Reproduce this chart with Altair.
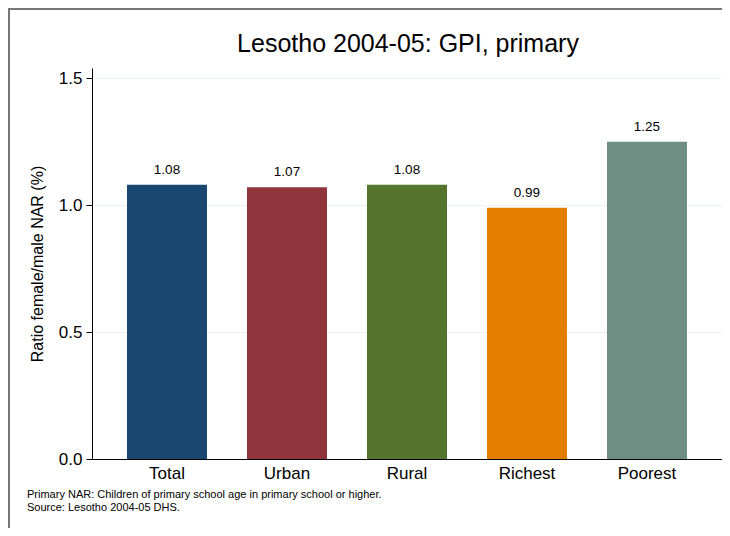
import altair as alt
import pandas as pd

categories = ["Total", "Urban", "Rural", "Richest", "Poorest"]
values = [1.08, 1.07, 1.08, 0.99, 1.25]
labels = ["1.08", "1.07", "1.08", "0.99", "1.25"]
colors = ["#1a476f", "#90353b", "#55752f", "#e37e00", "#6e8e84"]
y_ticks = [0.0, 0.5, 1.0, 1.5]
title_text = "Lesotho 2004-05: GPI, primary"
y_title = "Ratio female/male NAR (%)"
notes = ["Primary NAR: Children of primary school age in primary school or higher.",
         "Source: Lesotho 2004-05 DHS."]

FONT = "Liberation Sans"
W, H = 630, 391

df = pd.DataFrame({"cat": categories, "val": values, "lab": labels})

x = alt.X("cat:N", sort=categories, title=None,
          scale=alt.Scale(paddingInner=0.3333, paddingOuter=0.2917),
          axis=alt.Axis(labelAngle=0, labelFontSize=17, labelFont=FONT, labelColor="black",
                        domainColor="black", domainWidth=1, ticks=False, labelPadding=6))
y = alt.Y("val:Q", title=y_title,
          scale=alt.Scale(domain=[0, 1.54], nice=False, zero=True),
          axis=alt.Axis(values=y_ticks, format=".1f", labelFontSize=17, labelFont=FONT,
                        labelColor="black", tickColor="black", tickSize=6, domainColor="black",
                        grid=True, gridColor="#eaf2f3", gridWidth=1, labelPadding=4,
                        titleFont=FONT, titleFontSize=16, titleFontWeight="normal",
                        titleColor="black", titlePadding=13))

base = alt.Chart(df)
bars = base.mark_bar(size=80).encode(
    x=x, y=y,
    color=alt.Color("cat:N", sort=categories,
                    scale=alt.Scale(domain=categories, range=colors), legend=None))

texts = base.mark_text(baseline="bottom", dy=-8, fontSize=13.5, font=FONT,
                       color="black").encode(
    x=alt.X("cat:N", sort=categories), y="val:Q", text="lab:N")

one = pd.DataFrame({"a": [0]})
title = alt.Chart(one).mark_text(align="center", baseline="alphabetic", fontSize=25,
                                 font=FONT, color="black", text=title_text).encode(
    x=alt.value(W / 2 + 1), y=alt.value(-16))
note1 = alt.Chart(one).mark_text(align="left", baseline="alphabetic", fontSize=11,
                                 font=FONT, color="black", text=notes[0]).encode(
    x=alt.value(-65), y=alt.value(H + 39))
note2 = alt.Chart(one).mark_text(align="left", baseline="alphabetic", fontSize=11,
                                 font=FONT, color="black", text=notes[1]).encode(
    x=alt.value(-65), y=alt.value(H + 52))

frame_top = alt.Chart(one).mark_rule(color="#777777", strokeWidth=2).encode(
    x=alt.value(-84), x2=alt.value(W), y=alt.value(-59))
frame_left = alt.Chart(one).mark_rule(color="#777777", strokeWidth=2).encode(
    x=alt.value(-83), y=alt.value(-60), y2=alt.value(H + 69))

chart = alt.layer(bars, texts, title, note1, note2, frame_top, frame_left).properties(
    width=W, height=H,
    autosize=alt.AutoSizeParams(type="none"),
    padding={"left": 84, "top": 60, "right": 0, "bottom": 69},
    background="white",
).configure_view(stroke=None)

chart.save("out.html", embed_options={"renderer": "svg", "actions": False})
